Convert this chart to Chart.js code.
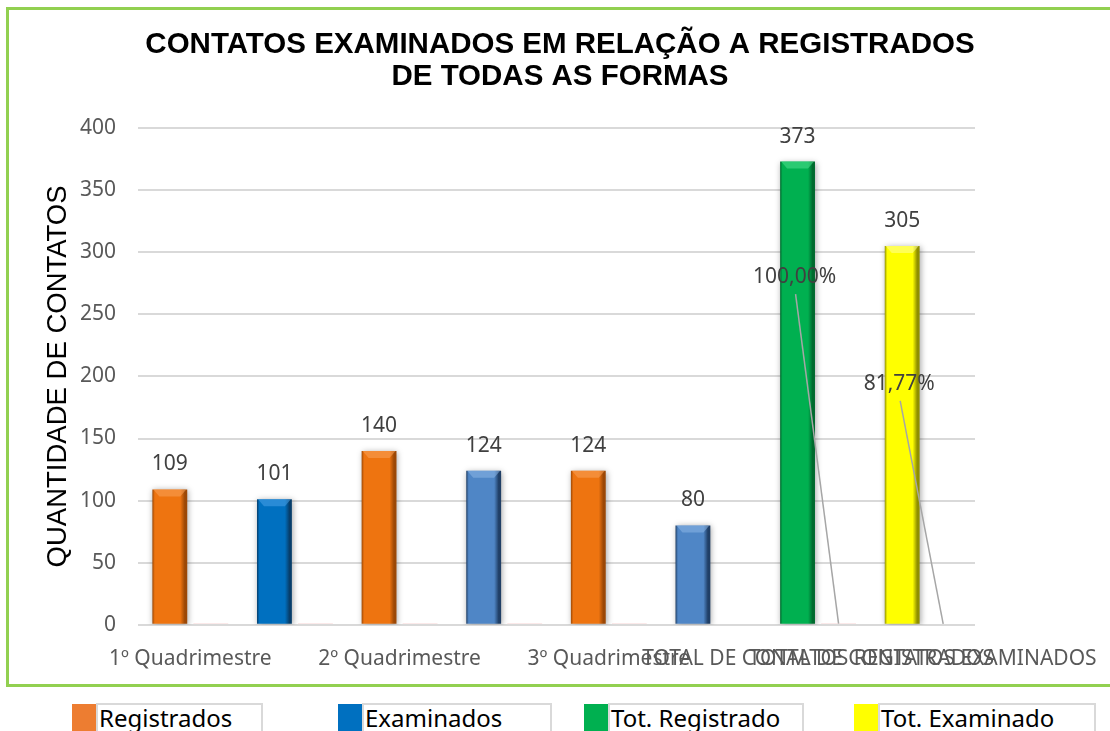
<!DOCTYPE html>
<html>
<head>
<meta charset="utf-8">
<script src="https://cdn.jsdelivr.net/npm/chart.js@4.4.1/dist/chart.umd.min.js"></script>
<style>
  html, body { margin: 0; padding: 0; background: #fff; overflow: hidden; }
  body { width: 1110px; height: 731px; position: relative; }
  #frame {
    position: absolute; left: 6px; top: 7px; width: 1130px; height: 680px;
    box-sizing: border-box; border: 3px solid #92D050;
  }
  #wrap { position: absolute; left: 0; top: 0; width: 1110px; height: 690px; }
  #legend { position: absolute; left: 0; top: 703px; width: 1110px; height: 28px; }
  .lg-box { position: absolute; top: 1px; width: 24px; height: 27px; }
  .lg-text {
    position: absolute; top: 0; height: 28px; box-sizing: border-box;
    border-top: 2px solid #D9D9D9; border-left: 2px solid #D9D9D9; border-right: 2px solid #D9D9D9;
    font: 24px "Noto Sans", sans-serif; color: #000; line-height: 25px; padding-left: 1px;
    white-space: nowrap; overflow: hidden;
  }
</style>
</head>
<body>
<div id="frame"></div>
<div id="wrap"><canvas id="chart"></canvas></div>
<div id="legend"></div>
<script>
// ---- data ----
const categories = [
  '1º Quadrimestre', '', '2º Quadrimestre', '', '3º Quadrimestre', '',
  'TOTAL DE CONTATOS REGISTRADOS', 'TOTAL DE CONTATOS EXAMINADOS'
];
const contatos = [109, 101, 140, 124, 124, 80, 373, 305];
const percentual = [1, 1, 1, 1, 1, null, 1, 0.8177];
const percentLabelIdx = [6, 7];
const legendLabels = ['Registrados', 'Examinados', 'Tot. Registrado', 'Tot. Examinado'];
const yMax = 400;
const yStep = 50;

// ---- style ----
const palette = {
  orange: { base: '#EE7410', dark: '#9C4806', light: '#F9A25A' },
  blue:   { base: '#0070C0', dark: '#073E6B', light: '#4BA3E8' },
  steel:  { base: '#4F86C6', dark: '#203F66', light: '#8CB6E6' },
  green:  { base: '#00B050', dark: '#006A2E', light: '#4FE08E' },
  yellow: { base: '#FFFF00', dark: '#8F8F00', light: '#FFFF9A' }
};
const barPalette = ['orange', 'blue', 'orange', 'steel', 'orange', 'steel', 'green', 'yellow'];
const legendColors = ['#ED7D31', '#0070C0', '#00B050', '#FFFF00'];
const legendLeft = [72, 338, 584, 854];
const legendRight = [263, 552, 804, 1096];
const percentAnchor = [280, 194]; // label heights in axis units
const CAT_PCT = 0.784;
const BAR_PCT = 0.85;
const tickFont = { family: '"Noto Sans", sans-serif', size: 21 };

function barGradient(c) {
  const p = palette[barPalette[c.dataIndex]];
  const chart = c.chart;
  const xs = chart.scales.x;
  if (!xs || !chart.chartArea) return p.base;
  const slot = (xs.width / categories.length) * CAT_PCT / 2;
  const cx = xs.getPixelForValue(c.dataIndex) - slot / 2;
  const half = slot * BAR_PCT / 2;
  const g = chart.ctx.createLinearGradient(cx - half, 0, cx + half, 0);
  g.addColorStop(0, p.dark);
  g.addColorStop(0.07, p.base);
  g.addColorStop(0.8, p.base);
  g.addColorStop(0.93, p.dark);
  g.addColorStop(1, p.dark);
  return g;
}

const barShadow = {
  id: 'barShadow',
  beforeDatasetDraw(chart, args) {
    if (args.index !== 0) return;
    const ctx = chart.ctx;
    ctx.save();
    ctx.shadowColor = 'rgba(0,0,0,0.35)';
    ctx.shadowBlur = 6;
    ctx.shadowOffsetX = 1;
    ctx.shadowOffsetY = 1;
  },
  afterDatasetDraw(chart, args) {
    if (args.index !== 0) return;
    chart.ctx.restore();
  }
};

const barLabels = {
  id: 'barLabels',
  afterDatasetsDraw(chart) {
    const ctx = chart.ctx;
    const ys = chart.scales.y;
    const meta = chart.getDatasetMeta(0);
    ctx.save();
    // top bevel
    meta.data.forEach((bar, i) => {
      const p = palette[barPalette[i]];
      const w = bar.width / 2;
      const b = 7;
      ctx.beginPath();
      ctx.moveTo(bar.x - w + 1, bar.y);
      ctx.lineTo(bar.x + w - 1, bar.y);
      ctx.lineTo(bar.x + w - b, bar.y + b);
      ctx.lineTo(bar.x - w + b, bar.y + b);
      ctx.closePath();
      ctx.globalAlpha = 0.55;
      ctx.fillStyle = p.light;
      ctx.fill();
      ctx.globalAlpha = 1;
    });
    ctx.font = '21px "Noto Sans", sans-serif';
    ctx.fillStyle = '#404040';
    ctx.textAlign = 'center';
    ctx.textBaseline = 'middle';
    meta.data.forEach((bar, i) => {
      ctx.fillText(String(contatos[i]), bar.x, bar.y - 25);
    });
    const pMeta = chart.getDatasetMeta(1);
    percentLabelIdx.forEach((i, k) => {
      const bar = pMeta.data[i];
      const lx = bar.x - 44;
      const ly = ys.getPixelForValue(percentAnchor[k]);
      ctx.strokeStyle = '#A6A6A6';
      ctx.lineWidth = 1.5;
      ctx.beginPath();
      ctx.moveTo(lx + 1, ly + 17);
      ctx.lineTo(bar.x, bar.y);
      ctx.stroke();
      const txt = (percentual[i] * 100).toFixed(2).replace('.', ',') + '%';
      ctx.fillText(txt, lx, ly);
    });
    ctx.restore();
  }
};

new Chart(document.getElementById('chart'), {
  type: 'bar',
  data: {
    labels: categories,
    datasets: [
      {
        label: 'Contatos',
        data: contatos,
        backgroundColor: barGradient,
        borderWidth: 0,
        categoryPercentage: CAT_PCT,
        barPercentage: BAR_PCT
      },
      {
        label: 'Percentual',
        data: percentual,
        backgroundColor: '#F0A8A8',
        borderWidth: 0,
        categoryPercentage: CAT_PCT,
        barPercentage: BAR_PCT
      }
    ]
  },
  options: {
    responsive: true,
    maintainAspectRatio: false,
    animation: false,
    layout: {
      padding: { left: 10, right: 0, top: 0, bottom: 4 }
    },
    plugins: {
      legend: { display: false },
      tooltip: { enabled: false },
      title: {
        display: true,
        text: ['CONTATOS EXAMINADOS EM RELAÇÃO A REGISTRADOS', 'DE TODAS AS FORMAS'],
        color: '#000',
        font: { family: '"Liberation Sans", Arial, sans-serif', size: 29.5, weight: 'bold', lineHeight: 1.085 },
        padding: { top: 29, bottom: 35 }
      }
    },
    scales: {
      x: {
        // long category names overlap, as in the original; keep them out of the layout padding
        afterFit(scale) { scale.paddingLeft = 0; scale.paddingRight = 0; },
        grid: { display: false },
        border: { display: false },
        ticks: {
          autoSkip: false,
          maxRotation: 0,
          minRotation: 0,
          padding: 14,
          color: '#595959',
          font: tickFont
        }
      },
      y: {
        min: 0,
        max: yMax,
        afterFit(scale) { scale.width = 128; },
        ticks: {
          stepSize: yStep,
          padding: 22,
          color: '#595959',
          font: tickFont
        },
        grid: { color: '#D9D9D9', lineWidth: 2, drawTicks: false },
        border: { display: false },
        title: {
          display: true,
          text: 'QUANTIDADE DE CONTATOS',
          color: '#000',
          font: { family: '"Liberation Sans", Arial, sans-serif', size: 27.5 },
          padding: { top: 32, bottom: 0 }
        }
      },
      yRight: {
        position: 'right',
        afterFit(scale) { scale.width = 135; },
        grid: { display: false },
        border: { display: false },
        ticks: { display: false }
      }
    }
  },
  plugins: [barShadow, barLabels]
});

// legend
const legendEl = document.getElementById('legend');
legendLabels.forEach((name, i) => {
  const box = document.createElement('div');
  box.className = 'lg-box';
  box.style.left = legendLeft[i] + 'px';
  box.style.background = legendColors[i];
  const txt = document.createElement('div');
  txt.className = 'lg-text';
  txt.style.left = (legendLeft[i] + 24) + 'px';
  txt.style.width = (legendRight[i] - legendLeft[i] - 24) + 'px';
  txt.textContent = name;
  legendEl.appendChild(box);
  legendEl.appendChild(txt);
});
</script>
</body>
</html>
